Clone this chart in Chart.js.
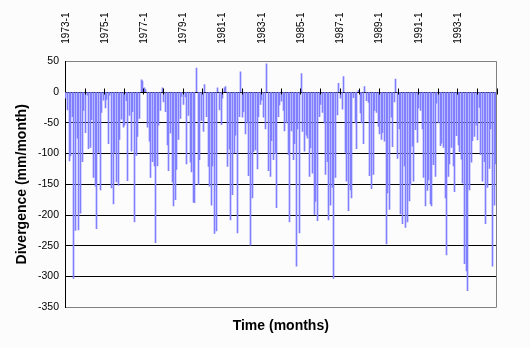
<!DOCTYPE html>
<html>
<head>
<meta charset="utf-8">
<script src="https://cdn.jsdelivr.net/npm/chart.js@4"></script>
<style>
  html, body { margin: 0; padding: 0; background: #fcfcfc; }
  #wrap { width: 530px; height: 348px; }
</style>
</head>
<body>
<div id="wrap"><canvas id="divChart" width="530" height="348"></canvas></div>
<script>
const startYear = 1973;
const endYear = 1994;

// monthly divergence, mm/month, one row per year (Jan..Dec)
const divergence = [
  -10, -29, -112, -104, -40, -303, -225, -75, -224, -197, -113, -30,   // 1973
  -66, -5, -92, -90, -45, -139, -153, -222, -98, -159, -33, -13,       // 1974
  -26, -12, -84, -5, -156, -182, -98, -146, -152, -77, -44, -57,       // 1975
  -54, -14, -144, -38, -96, -32, -211, -103, -72, -43, 20, 18,         // 1976
  7, 4, -57, -80, -139, -113, -120, -245, -120, -54, -30, 7,           // 1977
  -16, -32, -86, -128, -67, -146, -185, -175, -126, -77, -43, -7,      // 1978
  -20, -8, -117, -38, -114, -130, -179, -180, 39, -150, -110, -46,     // 1979
  -64, 12, -40, -121, -153, -184, -120, -230, -226, 7, -29, -53,       // 1980
  -10, 7, 9, -121, -93, -208, -167, -99, -70, -229, -40, 33,           // 1981
  -41, -32, -68, -50, -136, -249, -172, -97, -94, -125, -40, -20,      // 1982
  -13, -41, -60, 46, -128, -137, -79, -110, -100, -188, -40, -21,      // 1983
  -15, -30, -63, -50, -102, -211, -63, -110, -84, -283, -60, -229,     // 1984
  30, -64, -96, -70, -75, -137, -91, -132, -199, -178, -209, -40,      // 1985
  -20, -33, -50, -134, -113, -208, -184, -155, -303, -139, -37, 14,    // 1986
  -10, -28, 25, -98, -145, -193, -159, -172, -9, -50, -92, 3,          // 1987
  -34, -50, -84, 9, -14, -17, -136, -157, -134, -30, -33, -56,         // 1988
  -68, -77, -66, -80, -247, -164, -191, -41, -89, -16, 21, -108,       // 1989
  -60, -198, -214, -120, -220, -211, -177, -151, -88, -145, -61, -82,  // 1990
  -26, -30, -60, -139, -185, -160, -143, -182, -185, -118, -137, -18,  // 1991
  -50, -87, -83, -90, -172, -265, -137, -117, -90, -120, -162, -71,    // 1992
  -86, -97, -109, -148, -279, -291, -323, -159, -114, -79, -72, -54,   // 1993
  -78, -25, -102, -145, -113, -214, -155, -124, -60, -283, -184, -117  // 1994
];

const shownLabels = ["1973-1", "1975-1", "1977-1", "1979-1", "1981-1",
                     "1983-1", "1985-1", "1987-1", "1989-1", "1991-1", "1993-1"];
const yMin = -350, yMax = 50, yStep = 50;

const months = [];
for (let y = startYear; y <= endYear; y++) {
  for (let m = 1; m <= 12; m++) months.push(y + "-" + m);
}

const FONT = "'Liberation Sans', Arial, sans-serif";

// keep the 1px bars on whole pixels so they stay crisp
const crispBars = {
  id: "crispBars",
  beforeDatasetsDraw(chart) {
    chart.getDatasetMeta(0).data.forEach((bar) => {
      bar.x = Math.floor(bar.x) + 0.5;
    });
  }
};

// zero line tick marks at each year boundary, plus the grey frame on the right
const axisDecor = {
  id: "axisDecor",
  afterDraw(chart) {
    const { ctx, chartArea, scales } = chart;
    const xs = scales.x, ys = scales.y;
    const y0 = Math.round(ys.getPixelForValue(0)) + 0.5;
    const half = (xs.getPixelForValue(1) - xs.getPixelForValue(0)) / 2;
    ctx.save();
    ctx.strokeStyle = "#808080";
    ctx.lineWidth = 1;
    ctx.beginPath();
    const xr = Math.round(chartArea.right) - 0.5;
    ctx.moveTo(xr, chartArea.top);
    ctx.lineTo(xr, chartArea.bottom);
    ctx.stroke();
    ctx.strokeStyle = "#000";
    ctx.beginPath();
    for (let k = 12; k <= months.length; k += 12) {
      const x = Math.round(xs.getPixelForValue(k - 1) + half) + 0.5;
      ctx.moveTo(x, y0 - 4);
      ctx.lineTo(x, y0 + 2);
    }
    ctx.stroke();
    ctx.restore();
  }
};

new Chart(document.getElementById("divChart"), {
  type: "bar",
  data: {
    labels: months,
    datasets: [{
      data: divergence,
      backgroundColor: "#8080ff",
      barThickness: 1,
      xAxisID: "x",
    }],
  },
  options: {
    responsive: false,
    animation: false,
    layout: { padding: { left: 0, right: 33.5, top: 0, bottom: 0 } },
    plugins: {
      legend: { display: false },
      tooltip: { enabled: false },
    },
    scales: {
      x: {
        position: "top",
        grid: { display: false },
        border: { display: false },
        ticks: {
          autoSkip: false,
          maxRotation: 90,
          minRotation: 90,
          padding: 9.6,
          labelOffset: 12,
          color: "#000",
          font: { family: FONT, size: 10 },
          callback(value) {
            const lab = months[value];
            return shownLabels.includes(lab) ? lab : null;
          },
        },
        afterFit(scale) { scale.height = 61.3; },
      },
      xTitle: {
        type: "category",
        position: "bottom",
        grid: { display: false },
        border: { display: false },
        ticks: { display: false },
        title: {
          display: true,
          text: "Time (months)",
          color: "#000",
          font: { family: FONT, size: 14, weight: "bold" },
          padding: { top: 0, bottom: 13.6 },
        },
        afterFit(scale) { scale.height = 40.7; },
      },
      y: {
        min: yMin,
        max: yMax,
        z: 1,
        grid: {
          drawTicks: false,
          color: (c) => (c.tick.value === yMax || c.tick.value === yMin) ? "#808080" : "#000",
        },
        border: { color: "#000" },
        ticks: {
          stepSize: yStep,
          padding: 6,
          color: "#000",
          font: { family: FONT, size: 10.5 },
        },
        title: {
          display: true,
          text: "Divergence (mm/month)",
          color: "#000",
          font: { family: FONT, size: 14, weight: "bold" },
          padding: { top: 14, bottom: 0 },
        },
        afterFit(scale) { scale.width = 65; },
      },
    },
  },
  plugins: [crispBars, axisDecor],
});
</script>
</body>
</html>
